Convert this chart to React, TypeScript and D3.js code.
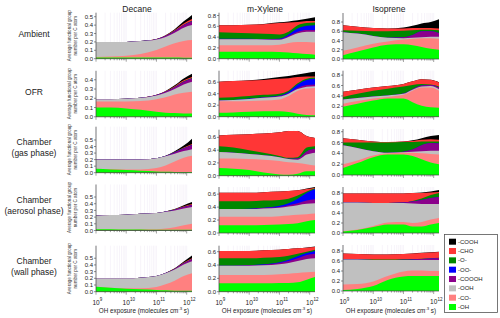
import React from 'react';
import * as d3 from 'd3';

// ---------- data ----------
const exposure = [1e9, 3e9, 1e10, 3e10, 1e11, 2e11, 4e11, 8e11, 1.5e12];
const speciesKeys = ['OH', 'CO', 'OOH', 'COOOH', 'OO', 'O', 'CHO', 'COOH']; // bottom -> top
const speciesLabels: Record<string, string> = {
  OH: '-OH', CO: '-CO-', OOH: '-OOH', COOOH: '-COOOH', OO: '-OO-', O: '-O-', CHO: '-CHO', COOH: '-COOH',
};
const speciesColors: Record<string, string> = {
  OH: '#00ff00', CO: '#ff8080', OOH: '#c0c0c0', COOOH: '#8b008b', OO: '#0000ff', O: '#008800', CHO: '#ff3636', COOH: '#000000',
};
const precursors = ['Decane', 'm-Xylene', 'Isoprene'];
const conditions = [['Ambient'], ['OFR'], ['Chamber', '(gas phase)'], ['Chamber', '(aerosol phase)'], ['Chamber', '(wall phase)']];
const xTickExponents = [9, 10, 11, 12];

const decaneAmbient = {
  OH: [0.015, 0.015, 0.015, 0.015, 0.015, 0.014, 0.013, 0.012, 0.012],
  CO: [0.005, 0.01, 0.02, 0.04, 0.09, 0.13, 0.17, 0.2, 0.21],
  OOH: [0.18, 0.175, 0.165, 0.155, 0.125, 0.116, 0.127, 0.158, 0.178],
  COOOH: [0, 0, 0, 0, 0.003, 0.01, 0.02, 0.03, 0.045],
  OO: [0, 0, 0, 0, 0, 0, 0, 0.001, 0.002],
  O: [0, 0, 0, 0, 0, 0.001, 0.002, 0.004, 0.005],
  CHO: [0, 0, 0, 0, 0.002, 0.005, 0.01, 0.015, 0.02],
  COOH: [0, 0, 0, 0, 0, 0.003, 0.01, 0.025, 0.05],
};
const mxyleneAmbient = {
  OH: [0.13, 0.13, 0.13, 0.13, 0.125, 0.115, 0.1, 0.085, 0.075],
  CO: [0.12, 0.12, 0.12, 0.12, 0.135, 0.175, 0.21, 0.225, 0.225],
  OOH: [0.11, 0.11, 0.11, 0.105, 0.09, 0.11, 0.16, 0.19, 0.2],
  COOOH: [0.005, 0.005, 0.005, 0.005, 0.01, 0.02, 0.03, 0.03, 0.03],
  OO: [0.005, 0.005, 0.005, 0.005, 0.01, 0.03, 0.06, 0.08, 0.09],
  O: [0.12, 0.11, 0.1, 0.095, 0.08, 0.05, 0.06, 0.05, 0.05],
  CHO: [0.13, 0.14, 0.16, 0.18, 0.21, 0.17, 0.06, 0.04, 0.03],
  COOH: [0, 0, 0, 0.005, 0.015, 0.02, 0.03, 0.04, 0.07],
};
const isopreneAmbient = {
  OH: [0.08, 0.16, 0.25, 0.31, 0.32, 0.3, 0.26, 0.22, 0.2],
  CO: [0.1, 0.09, 0.08, 0.07, 0.1, 0.14, 0.19, 0.23, 0.24],
  OOH: [0.4, 0.3, 0.17, 0.08, 0.03, 0.02, 0.02, 0.03, 0.04],
  COOOH: [0, 0, 0, 0, 0.02, 0.06, 0.13, 0.12, 0.08],
  OO: [0, 0, 0, 0, 0, 0, 0, 0, 0],
  O: [0.04, 0.06, 0.1, 0.14, 0.14, 0.1, 0.03, 0.03, 0.06],
  CHO: [0.11, 0.09, 0.07, 0.06, 0.05, 0.05, 0.04, 0.04, 0.04],
  COOH: [0, 0, 0, 0, 0.02, 0.05, 0.1, 0.13, 0.2],
};
const decaneOFR = {
  OH: [0.1, 0.1, 0.09, 0.075, 0.055, 0.045, 0.04, 0.035, 0.035],
  CO: [0.065, 0.065, 0.075, 0.095, 0.135, 0.165, 0.2, 0.225, 0.235],
  OOH: [0.025, 0.025, 0.03, 0.035, 0.04, 0.05, 0.06, 0.09, 0.11],
  COOOH: [0, 0, 0, 0, 0.005, 0.01, 0.02, 0.03, 0.035],
  OO: [0, 0, 0, 0, 0, 0, 0, 0, 0],
  O: [0, 0, 0, 0, 0, 0.001, 0.002, 0.004, 0.005],
  CHO: [0, 0, 0, 0, 0.002, 0.005, 0.008, 0.01, 0.01],
  COOH: [0, 0, 0, 0, 0, 0.003, 0.01, 0.02, 0.035],
};
const mxyleneOFR = {
  OH: [0.07, 0.075, 0.085, 0.095, 0.095, 0.08, 0.05, 0.03, 0.025],
  CO: [0.2, 0.195, 0.19, 0.185, 0.205, 0.28, 0.4, 0.46, 0.475],
  OOH: [0.01, 0.02, 0.035, 0.05, 0.05, 0.04, 0.03, 0.03, 0.03],
  COOOH: [0, 0, 0, 0.005, 0.01, 0.01, 0.02, 0.03, 0.03],
  OO: [0, 0, 0.005, 0.005, 0.01, 0.02, 0.06, 0.09, 0.1],
  O: [0.05, 0.05, 0.045, 0.04, 0.03, 0.02, 0.02, 0.02, 0.02],
  CHO: [0.28, 0.28, 0.27, 0.26, 0.26, 0.22, 0.11, 0.04, 0.02],
  COOH: [0, 0, 0.005, 0.015, 0.03, 0.04, 0.045, 0.06, 0.08],
};
const isopreneOFR = {
  OH: [0.19, 0.25, 0.31, 0.35, 0.35, 0.28, 0.21, 0.18, 0.17],
  CO: [0.06, 0.05, 0.04, 0.03, 0.07, 0.22, 0.35, 0.38, 0.33],
  OOH: [0.08, 0.06, 0.04, 0.03, 0.02, 0.02, 0.02, 0.03, 0.03],
  COOOH: [0, 0, 0, 0, 0.005, 0.01, 0.02, 0.02, 0.03],
  OO: [0, 0, 0, 0, 0, 0, 0, 0, 0],
  O: [0.05, 0.08, 0.11, 0.13, 0.135, 0.08, 0.03, 0.01, 0.02],
  CHO: [0.1, 0.08, 0.06, 0.05, 0.05, 0.07, 0.09, 0.09, 0.08],
  COOH: [0, 0, 0, 0, 0, 0, 0, 0, 0.005],
};
const decaneGas = {
  OH: [0.06, 0.05, 0.04, 0.03, 0.02, 0.015, 0.012, 0.01, 0.01],
  CO: [0, 0.005, 0.01, 0.02, 0.05, 0.095, 0.158, 0.22, 0.25],
  OOH: [0.14, 0.145, 0.15, 0.15, 0.15, 0.14, 0.12, 0.1, 0.1],
  COOOH: [0, 0, 0, 0, 0, 0.005, 0.02, 0.04, 0.06],
  OO: [0, 0, 0, 0, 0, 0, 0.001, 0.002, 0.003],
  O: [0, 0, 0, 0, 0, 0, 0.002, 0.004, 0.005],
  CHO: [0, 0, 0, 0, 0, 0.002, 0.004, 0.008, 0.012],
  COOH: [0, 0, 0, 0, 0, 0.003, 0.01, 0.03, 0.08],
};
const mxyleneGas = {
  OH: [0.12, 0.11, 0.09, 0.05, 0.02, 0.015, 0.03, 0.07, 0.07],
  CO: [0.15, 0.16, 0.17, 0.2, 0.21, 0.195, 0.17, 0.11, 0.09],
  OOH: [0.1, 0.09, 0.08, 0.07, 0.06, 0.05, 0.05, 0.15, 0.2],
  COOOH: [0, 0, 0, 0, 0, 0.005, 0.02, 0.05, 0.06],
  OO: [0, 0, 0, 0, 0, 0, 0, 0, 0],
  O: [0.09, 0.08, 0.06, 0.04, 0.02, 0.015, 0.02, 0.06, 0.04],
  CHO: [0.17, 0.2, 0.25, 0.3, 0.37, 0.42, 0.41, 0.18, 0.13],
  COOH: [0, 0, 0, 0, 0, 0, 0, 0, 0],
};
const isopreneGas = {
  OH: [0.13, 0.22, 0.33, 0.38, 0.38, 0.35, 0.29, 0.23, 0.2],
  CO: [0.07, 0.05, 0.03, 0.02, 0.03, 0.06, 0.11, 0.16, 0.18],
  OOH: [0.35, 0.23, 0.08, 0.01, 0.01, 0.02, 0.04, 0.06, 0.07],
  COOOH: [0, 0, 0, 0, 0.01, 0.04, 0.11, 0.14, 0.13],
  OO: [0, 0, 0, 0, 0, 0, 0, 0, 0],
  O: [0.05, 0.1, 0.16, 0.19, 0.18, 0.14, 0.07, 0.03, 0.04],
  CHO: [0.08, 0.05, 0.02, 0.01, 0.01, 0.02, 0.03, 0.04, 0.03],
  COOH: [0, 0, 0, 0, 0, 0.01, 0.03, 0.06, 0.09],
};
const decaneAerosol = {
  OH: [0.02, 0.02, 0.015, 0.015, 0.01, 0.01, 0.01, 0.01, 0.01],
  CO: [0, 0, 0, 0.005, 0.01, 0.02, 0.04, 0.07, 0.09],
  OOH: [0.2, 0.21, 0.22, 0.23, 0.24, 0.25, 0.25, 0.25, 0.25],
  COOOH: [0, 0, 0, 0, 0, 0.005, 0.01, 0.02, 0.03],
  OO: [0, 0, 0, 0, 0, 0, 0, 0, 0],
  O: [0, 0, 0, 0, 0, 0, 0.002, 0.003, 0.004],
  CHO: [0, 0, 0, 0, 0, 0, 0.005, 0.01, 0.01],
  COOH: [0, 0, 0, 0, 0, 0, 0.005, 0.015, 0.03],
};
const mxyleneAerosol = {
  OH: [0.12, 0.12, 0.12, 0.125, 0.13, 0.14, 0.15, 0.18, 0.2],
  CO: [0.13, 0.13, 0.13, 0.125, 0.13, 0.13, 0.13, 0.11, 0.1],
  OOH: [0.12, 0.12, 0.12, 0.13, 0.13, 0.14, 0.15, 0.16, 0.16],
  COOOH: [0, 0, 0, 0.005, 0.01, 0.02, 0.03, 0.05, 0.06],
  OO: [0, 0, 0.005, 0.005, 0.02, 0.03, 0.07, 0.12, 0.16],
  O: [0.12, 0.12, 0.115, 0.11, 0.09, 0.07, 0.05, 0.02, 0.01],
  CHO: [0.13, 0.13, 0.13, 0.13, 0.13, 0.12, 0.08, 0.04, 0.01],
  COOH: [0, 0, 0, 0, 0, 0, 0, 0.005, 0.01],
};
const isopreneAerosol = {
  OH: [0.03, 0.06, 0.12, 0.17, 0.17, 0.13, 0.13, 0.17, 0.2],
  CO: [0.01, 0.01, 0.02, 0.04, 0.05, 0.07, 0.09, 0.1, 0.1],
  OOH: [0.57, 0.54, 0.46, 0.39, 0.38, 0.39, 0.36, 0.31, 0.28],
  COOOH: [0, 0, 0, 0, 0.01, 0.04, 0.08, 0.12, 0.14],
  OO: [0, 0, 0, 0, 0, 0, 0, 0, 0],
  O: [0, 0, 0, 0, 0, 0.01, 0.03, 0.06, 0.08],
  CHO: [0.18, 0.18, 0.19, 0.19, 0.18, 0.16, 0.11, 0.05, 0.02],
  COOH: [0, 0, 0, 0, 0, 0, 0.01, 0.02, 0.04],
};
const decaneWall = {
  OH: [0.075, 0.06, 0.045, 0.035, 0.025, 0.02, 0.015, 0.015, 0.015],
  CO: [0, 0, 0.005, 0.015, 0.045, 0.09, 0.15, 0.22, 0.26],
  OOH: [0.125, 0.14, 0.15, 0.16, 0.165, 0.165, 0.165, 0.17, 0.18],
  COOOH: [0, 0, 0, 0, 0, 0.005, 0.01, 0.02, 0.03],
  OO: [0, 0, 0, 0, 0, 0, 0, 0, 0],
  O: [0, 0, 0, 0, 0, 0, 0.002, 0.003, 0.005],
  CHO: [0, 0, 0, 0, 0, 0, 0.003, 0.008, 0.01],
  COOH: [0, 0, 0, 0, 0, 0, 0.005, 0.015, 0.04],
};
const mxyleneWall = {
  OH: [0.125, 0.125, 0.125, 0.125, 0.13, 0.13, 0.14, 0.18, 0.22],
  CO: [0.125, 0.125, 0.125, 0.125, 0.13, 0.14, 0.14, 0.11, 0.08],
  OOH: [0.14, 0.14, 0.14, 0.145, 0.15, 0.16, 0.18, 0.2, 0.2],
  COOOH: [0, 0, 0.005, 0.01, 0.02, 0.03, 0.04, 0.06, 0.07],
  OO: [0, 0, 0, 0.005, 0.01, 0.02, 0.03, 0.03, 0.04],
  O: [0.11, 0.11, 0.105, 0.1, 0.08, 0.06, 0.04, 0.02, 0.02],
  CHO: [0.11, 0.11, 0.11, 0.11, 0.11, 0.1, 0.08, 0.06, 0.04],
  COOH: [0, 0, 0, 0, 0, 0, 0, 0.003, 0.008],
};
const isopreneWall = {
  OH: [0.02, 0.04, 0.1, 0.22, 0.29, 0.3, 0.3, 0.3, 0.3],
  CO: [0.11, 0.1, 0.09, 0.08, 0.1, 0.11, 0.11, 0.1, 0.1],
  OOH: [0.5, 0.49, 0.43, 0.32, 0.23, 0.21, 0.21, 0.22, 0.22],
  COOOH: [0, 0, 0, 0, 0.005, 0.01, 0.02, 0.03, 0.04],
  OO: [0, 0, 0, 0, 0, 0, 0, 0, 0],
  O: [0.01, 0.01, 0.01, 0.01, 0.01, 0.01, 0.005, 0.005, 0.005],
  CHO: [0.11, 0.1, 0.1, 0.1, 0.105, 0.11, 0.115, 0.115, 0.115],
  COOH: [0, 0, 0, 0, 0, 0, 0.005, 0.005, 0.005],
};

const yTicksDecane = [0, 0.1, 0.2, 0.3, 0.4, 0.5];
const yTicksDecaneOFR = [0, 0.1, 0.2, 0.3, 0.4];
const yTicksXyleneTop = [0, 0.2, 0.4, 0.6, 0.8];
const yTicksXylene = [0, 0.2, 0.4, 0.6];
const yTicksIsoprene = [0, 0.2, 0.4, 0.6, 0.8];

// ---------- layout ----------
const colLeft = [96, 219, 343];
const plotW = 96;
const plotH = 46;
const panelBottom = [
  [58.7, 58.7, 59],
  [116.8, 116.7, 116.7],
  [172.7, 175.7, 175],
  [230.5, 233, 233],
  [291.7, 291.7, 291],
];
const panelYMax = [
  [0.548, 0.852, 0.995],
  [0.497, 0.8, 0.885],
  [0.703, 0.72, 0.85],
  [0.687, 0.71, 0.92],
  [0.687, 0.69, 0.92],
];
const titleX = [137, 265, 389];
const FONT = "'Liberation Sans', Arial, Helvetica, sans-serif";

type PanelProps = {
  data: Record<string, number[]>;
  x0: number;
  bottom: number;
  yMax: number;
  yTicks: number[];
  showXLabels: boolean;
  showYTitle: boolean;
};

function Panel({ data, x0, bottom, yMax, yTicks, showXLabels, showYTitle }: PanelProps) {
  const top = bottom - plotH;
  const x = d3.scaleLog().domain([1e9, 1.5e12]).range([x0, x0 + plotW]);
  const y = d3.scaleLinear().domain([0, yMax]).range([bottom, top]);
  const rows = exposure.map((e, i) => {
    const r: any = { e };
    speciesKeys.forEach((k) => (r[k] = data[k][i]));
    return r;
  });
  const series = d3.stack<any>().keys(speciesKeys)(rows);
  const area = d3
    .area<any>()
    .x((_d, i) => x(exposure[i]))
    .y0(y(0))
    .y1((d) => y(d[1]))
    .curve(d3.curveMonotoneX);
  const ticks = x.ticks();
  const isMajor = (t: number) => Math.abs(Math.log10(t) - Math.round(Math.log10(t))) < 1e-9;
  const cy = (top + bottom) / 2;
  return (
    <g>
      {ticks.map((t, i) => (
        <line key={'g' + i} x1={x(t)} x2={x(t)} y1={top} y2={bottom} stroke="#efe9f5" strokeWidth={0.5} />
      ))}
      {series
        .slice()
        .reverse()
        .map((s) => (
          <path key={s.key} d={area(s as any) || ''} fill={speciesColors[s.key]} />
        ))}
      {/* y axis */}
      <line x1={x0} x2={x0} y1={top} y2={bottom} stroke="#444" strokeWidth={0.7} />
      {yTicks.map((t) => (
        <g key={'y' + t}>
          <line x1={x0 - 2} x2={x0} y1={y(t)} y2={y(t)} stroke="#444" strokeWidth={0.6} />
          <text x={x0 - 3} y={y(t)} dy="0.35em" fontSize={6} textAnchor="end" fill="#222" fontFamily={FONT}>
            {t.toFixed(1)}
          </text>
        </g>
      ))}
      {/* x axis */}
      <line x1={x0} x2={x0 + plotW} y1={bottom} y2={bottom} stroke="#444" strokeWidth={0.7} />
      {ticks.map((t, i) => (
        <line
          key={'t' + i}
          x1={x(t)}
          x2={x(t)}
          y1={bottom}
          y2={bottom + (isMajor(t) ? 3 : 1.6)}
          stroke="#444"
          strokeWidth={0.5}
        />
      ))}
      {showXLabels &&
        xTickExponents.map((e) => {
          const xt = x(Math.pow(10, e));
          return (
            <g key={'xl' + e} fontFamily={FONT} fill="#222">
              <text x={xt} y={bottom + 13} fontSize={6.5} textAnchor="middle">
                10
              </text>
              <text x={xt + 3.8} y={bottom + 9.5} fontSize={4.5} textAnchor="start">
                {e}
              </text>
            </g>
          );
        })}
      {showXLabels && (
        <text x={x0 + plotW / 2} y={bottom + 21.5} fontSize={6.3} textAnchor="middle" fill="#222" fontFamily={FONT}>
          OH exposure (molecules cm
          <tspan dy={-2.8} fontSize={4.3}>
            -3
          </tspan>
          <tspan dy={2.8}> s)</tspan>
        </text>
      )}
      {showYTitle && (
        <g fontFamily={FONT} fontSize={4.6} fill="#333">
          <text transform={`translate(${x0 - 27},${cy}) rotate(-90)`} textAnchor="middle" dy="0.35em">
            Average functional group
          </text>
          <text transform={`translate(${x0 - 20.5},${cy}) rotate(-90)`} textAnchor="middle" dy="0.35em">
            number per C atom
          </text>
        </g>
      )}
    </g>
  );
}

export default function App() {
  const grid = [
    [decaneAmbient, mxyleneAmbient, isopreneAmbient],
    [decaneOFR, mxyleneOFR, isopreneOFR],
    [decaneGas, mxyleneGas, isopreneGas],
    [decaneAerosol, mxyleneAerosol, isopreneAerosol],
    [decaneWall, mxyleneWall, isopreneWall],
  ];
  const tickSets = (r: number, c: number) => {
    if (c === 0) return r === 1 ? yTicksDecaneOFR : yTicksDecane;
    if (c === 1) return r === 0 ? yTicksXyleneTop : yTicksXylene;
    return yTicksIsoprene;
  };
  const legendKeys = speciesKeys.slice().reverse();
  return (
    <svg
      width={500}
      height={318}
      viewBox="0 0 500 318"
      style={{ position: 'absolute', left: 0, top: 0, background: '#fff' }}
    >
      <rect x={0} y={0} width={500} height={318} fill="#fff" />
      {precursors.map((p, c) => (
        <text key={p} x={titleX[c]} y={9.3} dy="0.35em" fontSize={8.5} textAnchor="middle" fill="#222" fontFamily={FONT}>
          {p}
        </text>
      ))}
      {conditions.map((lines, r) => {
        const b = panelBottom[r][0];
        const cy = b - plotH / 2 - 2;
        const n = lines.length;
        return (
          <text key={'c' + r} fontSize={8.5} textAnchor="middle" fill="#222" fontFamily={FONT}>
            {lines.map((l, i) => (
              <tspan key={i} x={34} y={cy + (i - (n - 1) / 2) * 10.5} dy="0.35em">
                {l}
              </tspan>
            ))}
          </text>
        );
      })}
      {grid.map((row, r) =>
        row.map((d, c) => (
          <Panel
            key={r + '-' + c}
            data={d as any}
            x0={colLeft[c]}
            bottom={panelBottom[r][c]}
            yMax={panelYMax[r][c]}
            yTicks={tickSets(r, c)}
            showXLabels={r === 4}
            showYTitle={c === 0}
          />
        ))
      )}
      {/* legend */}
      <g fontFamily={FONT}>
        <rect x={444.5} y={234.5} width={53} height={78} fill="#fff" stroke="#555" strokeWidth={0.8} />
        {legendKeys.map((k, i) => {
          const yy = 241.7 + i * 9.33;
          return (
            <g key={'lg' + k}>
              <rect x={449} y={yy - 3} width={7} height={6} fill={speciesColors[k]} />
              <text x={458} y={yy} dy="0.35em" fontSize={6} fill="#222">
                {speciesLabels[k]}
              </text>
            </g>
          );
        })}
      </g>
    </svg>
  );
}
